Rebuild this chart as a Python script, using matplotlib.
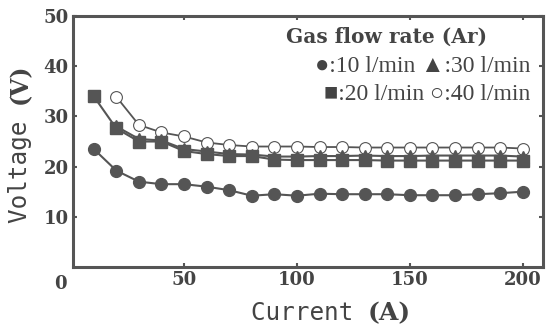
import numpy as np
import matplotlib.pyplot as plt

# current (A) and voltage (V) per gas flow rate
cur = [10, 20, 30, 40, 50, 60, 70, 80, 90, 100, 110, 120, 130, 140, 150, 160, 170, 180, 190, 200]
cur2 = cur[1:]

v10 = [23.5, 19.2, 17.0, 16.5, 16.5, 16.0, 15.3, 14.2, 14.5, 14.2, 14.6, 14.5, 14.5, 14.5, 14.3, 14.3, 14.3, 14.5, 14.7, 15.0]
v20 = [34.0, 27.6, 25.0, 25.0, 23.1, 22.5, 22.1, 22.1, 21.4, 21.3, 21.3, 21.3, 21.3, 21.2, 21.2, 21.2, 21.2, 21.2, 21.2, 21.2]
v30 = [28.0, 25.5, 25.2, 23.5, 23.0, 22.5, 22.4, 22.0, 22.0, 22.1, 22.1, 22.2, 22.1, 22.1, 22.2, 22.2, 22.2, 22.2, 22.0]
v40 = [33.9, 28.3, 26.8, 26.0, 24.8, 24.3, 24.0, 24.0, 24.0, 23.9, 23.9, 23.8, 23.8, 23.8, 23.8, 23.8, 23.8, 23.8, 23.6]

xticks = [50, 100, 150, 200]
yticks = [10, 20, 30, 40, 50]

gray = '#555555'
txt = '#444444'
serif = 'Liberation Serif'
bserif = 'DejaVu Serif'
mono = 'DejaVu Sans Mono'

fig = plt.figure(figsize=(5.46, 3.26), dpi=100)
ax = fig.add_axes([73/546, 1-267/326, (543-73)/546, (267-16)/326])

ax.plot(cur, v10, '-o', color=gray, ms=8.5, lw=1.5, zorder=3)
ax.plot(cur, v20, '-s', color=gray, ms=8.5, lw=1.5, zorder=3)
ax.plot(cur2, v30, '-^', color=gray, ms=8.5, lw=1.5, zorder=3)
ax.plot(cur2, v40, '-o', color=gray, mfc='white', mec=gray, ms=8.5, mew=0.8, lw=1.3, zorder=2)

ax.set_xlim(0.8, 209)
ax.set_ylim(0, 50)
ax.set_xticks(xticks)
ax.set_yticks(yticks)
ax.tick_params(direction='in', length=3, width=1.5, color=gray, top=True, right=True,
               labelsize=13, labelcolor=txt, pad=3)
for lab in ax.get_xticklabels() + ax.get_yticklabels():
    lab.set_fontfamily(bserif)
    lab.set_fontweight('bold')
for s in ax.spines.values():
    s.set_color(gray)
    s.set_linewidth(2.2)

# shared origin label
fig.text(60/546, 1-284/326, '0', fontsize=13, fontfamily=bserif, fontweight='bold',
         color=txt, ha='center', va='center')

# axis labels
fig.text(368/546, 1-313/326, 'Current ', fontsize=17.5, fontfamily=mono, color=txt,
         ha='right', va='center')
fig.text(368/546, 1-313/326, '(A)', fontsize=18, fontfamily=bserif, fontweight='bold',
         color=txt, ha='left', va='center')
fig.text(20/546, 1-106/326, 'Voltage ', fontsize=17.5, fontfamily=mono, color=txt,
         ha='center', va='top', rotation=90)
fig.text(20/546, 1-104/326, '(V)', fontsize=17, fontfamily=bserif, fontweight='bold',
         color=txt, ha='center', va='bottom', rotation=90)

# legend text
fig.text(386/546, 1-37/326, 'Gas flow rate (Ar)', ha='center', va='center',
         fontsize=14.5, fontfamily=bserif, fontweight='bold', color=txt)
fig.text(530/546, 1-67/326, '\u25cf:10 l/min \u25b2:30 l/min', ha='right', va='center',
         fontsize=17, fontfamily=[serif, 'DejaVu Sans'], color=txt)
fig.text(530/546, 1-95/326, '\u25a0:20 l/min \u25cb:40 l/min', ha='right', va='center',
         fontsize=17, fontfamily=[serif, 'DejaVu Sans'], color=txt)

fig.savefig('out.png', dpi=100)
